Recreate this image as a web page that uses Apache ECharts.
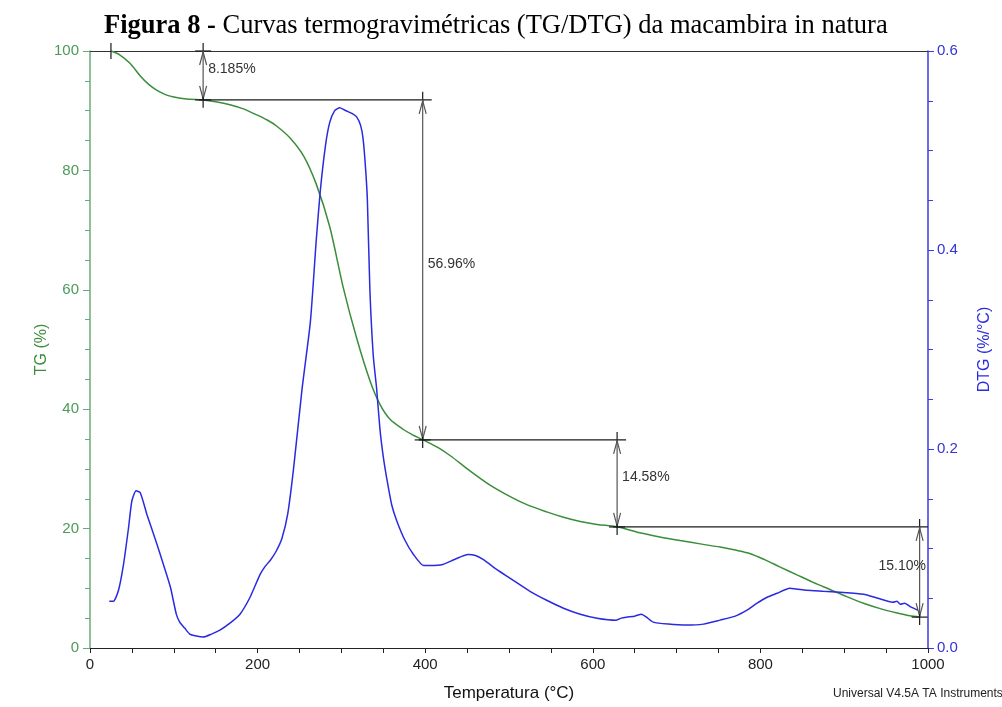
<!DOCTYPE html>
<html>
<head>
<meta charset="utf-8">
<title>Figura 8 - TG/DTG macambira</title>
<script src="https://cdn.jsdelivr.net/npm/echarts@6/dist/echarts.min.js"></script>
<style>
  html, body { margin: 0; padding: 0; background: #fff; }
  #chart { width: 1002px; height: 707px; }
</style>
</head>
<body>
<div id="chart"></div>
<script>
// TG curve: temperature (°C) and residual mass (%)
const tgTemp = [25, 35, 48, 60, 70, 80, 90, 100, 115, 135, 150, 167, 183, 199, 212, 223, 239, 255, 270, 286, 302, 318, 334, 346, 358, 374, 385, 397, 415, 430, 453, 475, 497, 520, 545, 565, 585, 605, 629, 656, 680, 704, 730, 752, 770, 788, 805, 823, 843, 863, 883, 903, 923, 943, 962, 978, 990]
const tgMass = [100, 99.4, 97.9, 95.8, 94.4, 93.4, 92.7, 92.3, 91.95, 91.8, 91.5, 91.0, 90.3, 89.3, 88.4, 87.4, 85.4, 82.4, 77.7, 70.6, 60.5, 52.0, 44.8, 40.8, 38.3, 36.6, 35.7, 34.9, 33.6, 32.2, 29.7, 27.5, 25.7, 24.1, 22.8, 21.9, 21.2, 20.7, 20.3, 19.3, 18.6, 18.0, 17.4, 16.9, 16.4, 15.8, 14.8, 13.6, 12.3, 11.0, 9.8, 8.6, 7.5, 6.6, 5.9, 5.4, 5.2]

// DTG curve: temperature (°C) and derivative (%/°C)
const dtgTemp = [23, 28, 34, 40, 46, 50, 55, 60, 68, 80, 88, 96, 103, 107, 113, 119, 127, 135, 145, 155, 167, 179, 191, 203, 209, 215, 222, 229, 236, 243, 253, 263, 270, 275, 281, 286, 292, 298, 303, 308, 313, 318, 323, 326, 329, 331, 334, 338, 342, 346, 350, 354, 360, 366, 376, 386, 398, 406, 421, 435, 451, 460, 469, 487, 505, 525, 545, 565, 585, 605, 628, 634, 640, 650, 658, 664, 672, 690, 712, 732, 752, 770, 784, 796, 808, 820, 835, 845, 855, 875, 895, 923, 940, 958, 963, 967, 972, 980, 988]
const dtgRate = [0.047, 0.047, 0.058, 0.084, 0.121, 0.148, 0.158, 0.156, 0.134, 0.104, 0.083, 0.061, 0.034, 0.026, 0.02, 0.014, 0.012, 0.011, 0.014, 0.018, 0.025, 0.034, 0.051, 0.074, 0.082, 0.088, 0.097, 0.11, 0.135, 0.181, 0.26, 0.328, 0.41, 0.461, 0.505, 0.528, 0.54, 0.543, 0.541, 0.539, 0.537, 0.534, 0.525, 0.511, 0.48, 0.45, 0.36, 0.294, 0.261, 0.22, 0.192, 0.171, 0.144, 0.128, 0.108, 0.094, 0.083, 0.083, 0.084, 0.089, 0.094, 0.093, 0.089, 0.078, 0.068, 0.057, 0.048, 0.04, 0.034, 0.03, 0.028, 0.03, 0.031, 0.032, 0.034, 0.031, 0.026, 0.024, 0.023, 0.024, 0.028, 0.032, 0.038, 0.045, 0.051, 0.055, 0.06, 0.059, 0.058, 0.057, 0.056, 0.054, 0.05, 0.046, 0.047, 0.044, 0.045, 0.041, 0.038]

// mass-loss steps marked on the TG curve
const stepTemp = [25, 135, 397, 629, 990]
const stepMass = [100, 91.815, 34.855, 20.275, 5.175]
const stepLoss = ['8.185%', '56.96%', '14.58%', '15.10%']

const xMin = 0, xMax = 1000
const green = '#3a8d3a'
const greenAxis = '#6aaa76'
const blue = '#2a2ae0'

const chart = echarts.init(document.getElementById('chart'))

function pairs(xs, ys) {
  return xs.map((x, i) => [x, ys[i]])
}

// draws one step: level line, double arrow, crosses and the loss label
function renderStep(params, api) {
  const i = params.dataIndex
  const a = api.coord([api.value(0), api.value(1)])
  const b = api.coord([api.value(2), api.value(1)])
  const c = api.coord([api.value(2), api.value(3)])
  const right = api.coord([xMax, 0])[0]
  const last = i === stepLoss.length - 1
  const ink = { stroke: '#1a1a1a', lineWidth: 1.2 }
  const grey = { stroke: '#555', lineWidth: 1.2, fill: null }
  const kids = []

  if (i === 0) {
    kids.push({ type: 'line', shape: { x1: a[0], y1: a[1] - 8, x2: a[0], y2: a[1] + 8 }, style: ink })
  } else {
    kids.push({ type: 'line', shape: { x1: a[0] - 4, y1: a[1], x2: last ? right : b[0] + 9, y2: a[1] }, style: ink })
  }
  // top cross
  kids.push({ type: 'line', shape: { x1: b[0], y1: b[1] - 8, x2: b[0], y2: b[1] + 3 }, style: ink })
  if (i === 0) {
    kids.push({ type: 'line', shape: { x1: b[0] - 8, y1: b[1], x2: b[0] + 8, y2: b[1] }, style: ink })
  }
  // shaft and heads
  kids.push({ type: 'line', shape: { x1: b[0], y1: b[1], x2: c[0], y2: c[1] }, style: grey })
  kids.push({ type: 'polyline', shape: { points: [[b[0] - 3.5, b[1] + 14], [b[0], b[1] + 1], [b[0] + 3.5, b[1] + 14]] }, style: grey })
  kids.push({ type: 'polyline', shape: { points: [[c[0] - 3.5, c[1] - 14], [c[0], c[1] - 1], [c[0] + 3.5, c[1] - 14]] }, style: grey })
  // bottom cross
  kids.push({ type: 'line', shape: { x1: c[0] - 8, y1: c[1], x2: c[0] + 8, y2: c[1] }, style: ink })
  kids.push({ type: 'line', shape: { x1: c[0], y1: c[1] - 3, x2: c[0], y2: c[1] + 8 }, style: ink })

  const spill = b[0] + 60 > right
  kids.push({
    type: 'text',
    x: spill ? right - 2 : b[0] + 5,
    y: (b[1] + c[1]) / 2 - 6,
    style: {
      text: stepLoss[i],
      fill: '#333',
      fontSize: 14,
      fontFamily: 'Liberation Sans',
      align: spill ? 'right' : 'left',
      verticalAlign: 'middle'
    }
  })
  return { type: 'group', children: kids }
}

const option = {
  animation: false,
  backgroundColor: '#fff',
  title: {
    text: '{b|Figura 8 -} Curvas termogravimétricas (TG/DTG) da macambira in natura',
    left: 99,
    top: 8,
    textStyle: {
      fontFamily: 'Liberation Serif',
      fontSize: 26.5,
      fontWeight: 'normal',
      color: '#000',
      rich: {
        b: { fontFamily: 'Liberation Serif', fontSize: 26.5, fontWeight: 'bold', color: '#000' }
      }
    }
  },
  grid: { left: 90, right: 74, top: 51, bottom: 56 },
  xAxis: [{
    type: 'value',
    min: xMin,
    max: xMax,
    interval: 200,
    name: 'Temperatura (°C)',
    nameLocation: 'middle',
    nameGap: 37,
    nameMoveOverlap: false,
    nameTextStyle: { fontFamily: 'Liberation Sans', fontSize: 17, color: '#111' },
    axisLine: { onZero: false, lineStyle: { color: '#222' } },
    axisTick: { length: 5, lineStyle: { color: '#222' } },
    minorTick: { show: true, splitNumber: 4, length: 5, lineStyle: { color: '#222' } },
    axisLabel: { margin: 9, fontFamily: 'Liberation Sans', fontSize: 15, color: '#222', formatter: v => String(v) },
    splitLine: { show: false }
  }, {
    type: 'value',
    position: 'top',
    min: xMin,
    max: xMax,
    axisLine: { show: true, onZero: false, lineStyle: { color: '#333' } },
    axisTick: { show: false },
    axisLabel: { show: false },
    splitLine: { show: false }
  }],
  yAxis: [{
    type: 'value',
    min: 0,
    max: 100,
    interval: 20,
    name: 'TG (%)',
    nameLocation: 'middle',
    nameGap: 40,
    nameRotate: 90,
    nameMoveOverlap: false,
    nameTextStyle: { fontFamily: 'Liberation Sans', fontSize: 16, color: green },
    axisLine: { show: true, onZero: false, lineStyle: { color: greenAxis, width: 1.5 } },
    axisTick: { length: 7, lineStyle: { color: greenAxis } },
    minorTick: { show: true, splitNumber: 4, length: 5, lineStyle: { color: greenAxis } },
    axisLabel: { margin: 11, fontFamily: 'Liberation Sans', fontSize: 15, color: '#4c9a58' },
    splitLine: { show: false }
  }, {
    type: 'value',
    position: 'right',
    min: 0,
    max: 0.6,
    interval: 0.2,
    name: 'DTG (%/°C)',
    nameLocation: 'middle',
    nameGap: 49,
    nameRotate: 90,
    nameMoveOverlap: false,
    nameTextStyle: { fontFamily: 'Liberation Sans', fontSize: 16, color: blue },
    axisLine: { show: true, onZero: false, lineStyle: { color: '#3b3be0', width: 1.5 } },
    axisTick: { length: 6, lineStyle: { color: '#3b3be0' } },
    minorTick: { show: true, splitNumber: 4, length: 5, lineStyle: { color: '#3b3be0' } },
    axisLabel: {
      margin: 9,
      fontFamily: 'Liberation Sans',
      fontSize: 15,
      color: '#3333d8',
      formatter: v => v.toFixed(1)
    },
    splitLine: { show: false }
  }],
  graphic: [{
    type: 'text',
    left: 833,
    top: 688,
    style: {
      text: 'Universal V4.5A TA Instruments',
      fontFamily: 'Liberation Sans',
      fontSize: 12,
      fill: '#222'
    }
  }],
  series: [{
    name: 'TG',
    type: 'line',
    data: pairs(tgTemp, tgMass),
    xAxisIndex: 0,
    yAxisIndex: 0,
    smooth: 0.3,
    showSymbol: false,
    lineStyle: { color: green, width: 1.5 },
    z: 3
  }, {
    name: 'DTG',
    type: 'line',
    data: pairs(dtgTemp, dtgRate),
    xAxisIndex: 0,
    yAxisIndex: 1,
    smooth: 0.2,
    showSymbol: false,
    lineStyle: { color: blue, width: 1.5 },
    z: 3
  }, {
    name: 'steps',
    type: 'custom',
    xAxisIndex: 0,
    yAxisIndex: 0,
    clip: false,
    silent: true,
    renderItem: renderStep,
    data: stepLoss.map((t, i) => [stepTemp[i], stepMass[i], stepTemp[i + 1], stepMass[i + 1]]),
    z: 4
  }]
}

chart.setOption(option)
</script>
</body>
</html>
